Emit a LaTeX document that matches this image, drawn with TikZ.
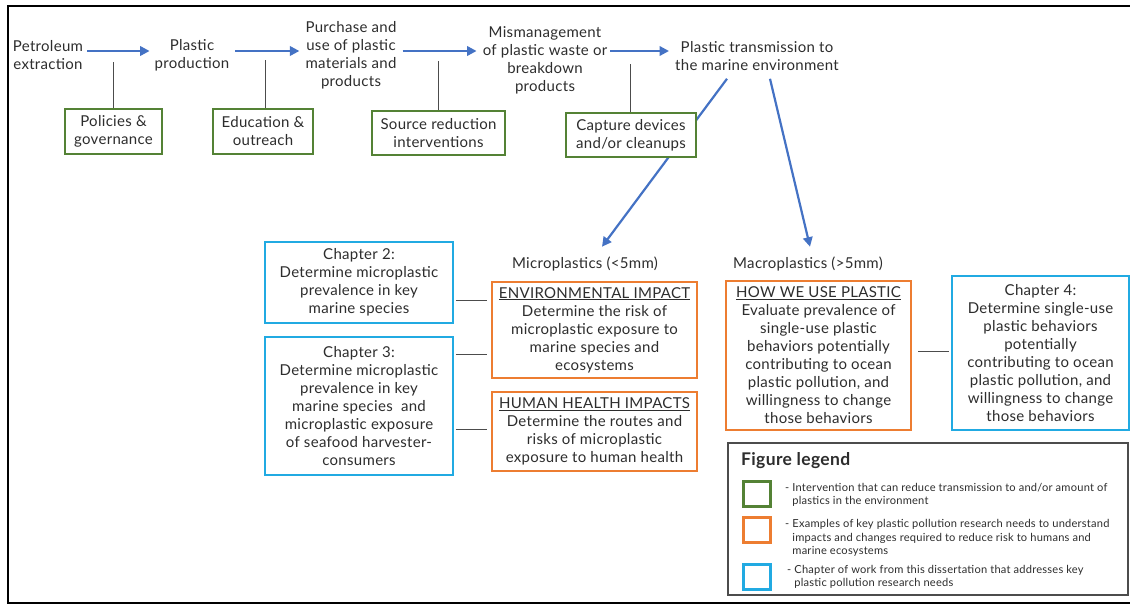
\documentclass[tikz,border=0pt]{standalone}
\usepackage{fontspec}
\setmainfont{Lato}[LetterSpace=2]
\usetikzlibrary{arrows.meta,calc}
\definecolor{flowblue}{RGB}{68,114,196}
\definecolor{grnbox}{RGB}{84,130,53}
\definecolor{orgbox}{RGB}{237,125,49}
\definecolor{cyanbox}{RGB}{33,170,226}
\definecolor{txt}{RGB}{45,45,45}
\begin{document}
\begin{tikzpicture}[x=1pt,y=-1pt,
  every node/.style={text=txt, font=\fontsize{15}{18}\selectfont, align=center, inner sep=0pt},
  flow/.style={draw=flowblue, line width=2.2pt, -{Triangle[length=9.5pt,width=9.5pt]}},
  conn/.style={draw=black!70, line width=1pt},
  gbox/.style={draw=grnbox, line width=2.4pt, fill=white},
  obox/.style={draw=orgbox, line width=2.4pt, fill=white},
  cbox/.style={draw=cyanbox, line width=2.8pt, fill=white},
  legsq/.style={line width=2.6pt, minimum width=27pt, minimum height=25pt},
  legtxt/.style={font=\fontsize{11.1}{13.5}\selectfont, align=left, anchor=west},
]
\useasboundingbox (0,0) rectangle (1130,605);
\draw[line width=2pt] (1131,6) -- (8,6) -- (8,602.5) -- (1131,602.5);

% top row
\node (pe) at (48,55) {Petroleum\\extraction};
\node (pp) at (192,55) {Plastic\\production};
\node (pu) at (351,55) {Purchase and\\use of plastic\\materials and\\products};
\node (mm) at (545,60) {Mismanagement\\of plastic waste or\\breakdown\\products};
\node (pt) at (757,56) {Plastic transmission to\\the marine environment};
\coordinate (ya) at (0,51);
\draw[flow, shorten <=4pt, shorten >=5pt] (pe.east |- ya) -- (pp.west |- ya);
\draw[flow, shorten <=6pt, shorten >=6pt] (pp.east |- ya) -- (pu.west |- ya);
\draw[flow, shorten <=6pt, shorten >=6pt] (pu.east |- ya) -- (mm.west |- ya);
\draw[flow, shorten <=3pt, shorten >=6pt] (mm.east |- ya) -- (pt.west |- ya);

% labels
\node (mic) at (585,264) {Microplastics (<5mm)};
\node (mac) at (808,264) {Macroplastics (>5mm)};

% diagonal arrows
\draw[flow] ([xshift=-30pt,yshift=-8pt]pt.south) -- ([xshift=17pt,yshift=10pt]mic.north);
\draw[flow] ([xshift=13pt,yshift=-8pt]pt.south) -- ([xshift=2pt,yshift=10pt]mac.north);

% green interventions
\node[gbox, minimum width=97pt, minimum height=45pt] (pol) at (113.5,131.5) {Policies \&\\governance};
\node[gbox, minimum width=100pt, minimum height=45pt] (edu) at (263,131.5) {Education \&\\outreach};
\node[gbox, minimum width=133pt, minimum height=44pt] (src) at (438.5,133) {Source reduction\\interventions};
\node[gbox, minimum width=130pt, minimum height=44pt] (cap) at (631,135) {Capture devices\\and/or cleanups};
\draw[conn] (pol.north) -- ++(0,-46);
\draw[conn] ([xshift=2pt]edu.north) -- ++(0,-48);
\draw[conn] (src.north) -- ++(0,-49);
\draw[conn] ([xshift=-1pt]cap.north) -- ++(0,-48);

% research needs
\node[obox, minimum width=205pt, minimum height=96pt] (env) at (594.5,330)
  {\underline{ENVIRONMENTAL IMPACT}\\Determine the risk of\\microplastic exposure to\\marine species and\\ecosystems};
\node[obox, minimum width=205pt, minimum height=79pt] (hh) at (594.5,431.5)
  {\underline{HUMAN HEALTH IMPACTS}\\Determine the routes and\\risks of microplastic\\exposure to human health};
\node[obox, minimum width=185pt, minimum height=149pt] (how) at (818.5,355.5)
  {\underline{HOW WE USE PLASTIC}\\Evaluate prevalence of\\single-use plastic\\behaviors potentially\\contributing to ocean\\plastic pollution, and\\willingness to change\\those behaviors};

% chapters
\node[cbox, minimum width=188pt, minimum height=81pt] (ch2) at (359,282.5)
  {Chapter 2:\\Determine microplastic\\prevalence in key\\marine species};
\node[cbox, minimum width=188pt, minimum height=138pt] (ch3) at (359,406)
  {Chapter 3:\\Determine microplastic\\prevalence in key\\marine species~ and\\microplastic exposure\\of seafood harvester-\\consumers};
\node[cbox, minimum width=177pt, minimum height=154pt] (ch4) at (1040.5,353)
  {Chapter 4:\\Determine single-use\\plastic behaviors\\potentially\\contributing to ocean\\plastic pollution, and\\willingness to change\\those behaviors};

\draw[conn, shorten <=1.5pt, shorten >=4pt] ($(ch2.east)+(0,17.5)$) -- ($(env.west)+(0,-30)$);
\draw[conn, shorten <=1.5pt, shorten >=4pt] ($(ch3.east)+(0,-52)$) -- ($(env.west)+(0,24)$);
\draw[conn, shorten <=1.5pt, shorten >=4pt] ($(ch3.east)+(0,23)$) -- ($(hh.west)+(0,-2.5)$);
\draw[conn, shorten <=6pt, shorten >=2pt] ($(how.east)+(0,-4.5)$) -- ($(ch4.west)+(0,-2)$);

% legend
\node[draw=black!70, line width=1.3pt, minimum width=400pt, minimum height=152pt] (leg) at (928,519) {};
\node[anchor=west, font=\fontsize{17.5}{20}\bfseries] (legt) at (741,461) {Figure legend};
\node[legsq, draw=grnbox] (sqg) at (757,494) {};
\node[legsq, draw=orgbox] (sqo) at (757,530) {};
\node[legsq, draw=cyanbox] (sqc) at (757,577) {};
\node[legtxt] (lg) at (785,495) {- Intervention that can reduce transmission to and/or amount of\\\phantom{- }plastics in the environment};
\node[legtxt] (lo) at (785,538) {- Examples of key plastic pollution research needs to understand\\\phantom{- }impacts and changes required to reduce risk to humans and\\\phantom{- }marine ecosystems};
\node[legtxt] (lc) at (787,577) {- Chapter of work from this dissertation that addresses key\\\phantom{- }plastic pollution research needs};
\end{tikzpicture}
\end{document}
